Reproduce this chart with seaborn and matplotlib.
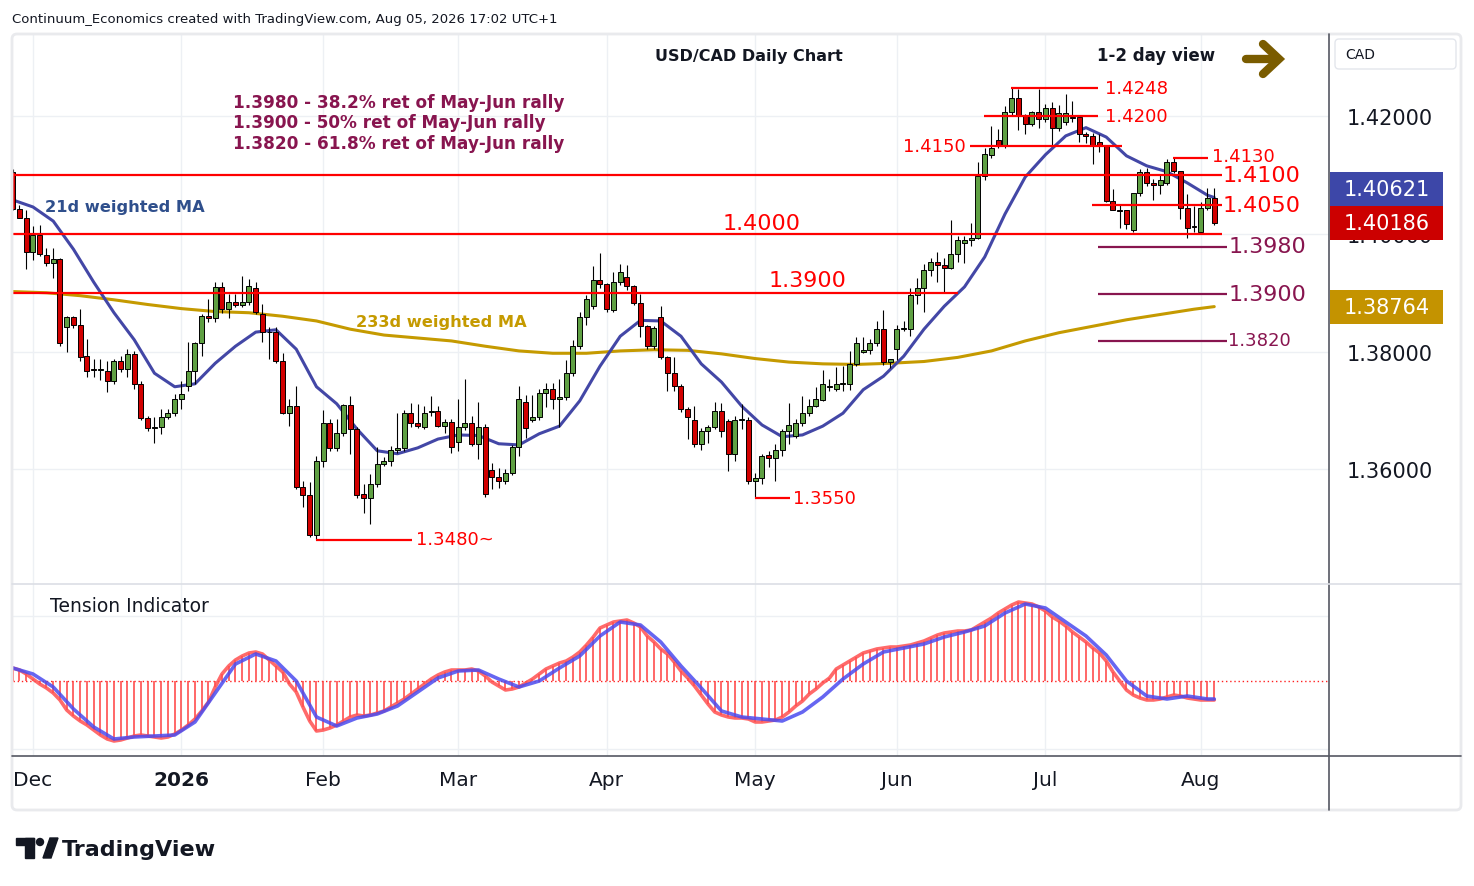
import matplotlib.pyplot as plt
import matplotlib.patches as mpatches
import matplotlib.transforms as mtransforms
import numpy as np
import pandas as pd
import seaborn as sns

sns.set_theme(style='white')
plt.rcParams['font.family'] = ['DejaVu Sans']

# Trading days shown (FX daily, Christmas and New Year closed)
dates = pd.bdate_range('2025-11-26', '2026-08-05')
dates = dates[~dates.isin(pd.to_datetime(['2025-12-25', '2026-01-01']))]

# USD/CAD daily OHLC
opens = [1.4105, 1.4043, 1.4028, 1.3970, 1.3998, 1.3965, 1.3950, 1.3957, 1.3841, 1.3858,
         1.3845, 1.3792, 1.3770, 1.3768, 1.3767, 1.3749, 1.3784, 1.3771, 1.3796, 1.3744,
         1.3686, 1.3669, 1.3671, 1.3688, 1.3695, 1.3720, 1.3742, 1.3766, 1.3815, 1.3861,
         1.3857, 1.3909, 1.3872, 1.3885, 1.3879, 1.3885, 1.3908, 1.3864, 1.3834, 1.3833,
         1.3784, 1.3695, 1.3708, 1.3569, 1.3556, 1.3487, 1.3614, 1.3679, 1.3635, 1.3661,
         1.3709, 1.3668, 1.3557, 1.3550, 1.3574, 1.3608, 1.3614, 1.3633, 1.3635, 1.3695,
         1.3678, 1.3671, 1.3697, 1.3698, 1.3674, 1.3680, 1.3646, 1.3672, 1.3678, 1.3643,
         1.3672, 1.3599, 1.3586, 1.3580, 1.3593, 1.3637, 1.3714, 1.3684, 1.3689, 1.3730,
         1.3737, 1.3719, 1.3723, 1.3763, 1.3809, 1.3858, 1.3877, 1.3921, 1.3915, 1.3871,
         1.3918, 1.3926, 1.3911, 1.3883, 1.3843, 1.3809, 1.3858, 1.3790, 1.3764, 1.3742,
         1.3703, 1.3683, 1.3643, 1.3664, 1.3671, 1.3699, 1.3681, 1.3626, 1.3684, 1.3684,
         1.3580, 1.3584, 1.3624, 1.3618, 1.3633, 1.3664, 1.3657, 1.3678, 1.3695, 1.3707,
         1.3718, 1.3740, 1.3737, 1.3745, 1.3745, 1.3779, 1.3799, 1.3802, 1.3814, 1.3839,
         1.3782, 1.3805, 1.3839, 1.3838, 1.3896, 1.3908, 1.3938, 1.3953, 1.3947, 1.3942,
         1.3966, 1.3985, 1.3989, 1.3994, 1.4099, 1.4134, 1.4160, 1.4151, 1.4208, 1.4231,
         1.4203, 1.4187, 1.4208, 1.4196, 1.4214, 1.4180, 1.4190, 1.4199, 1.4199, 1.4170,
         1.4166, 1.4156, 1.4151, 1.4057, 1.4040, 1.4040, 1.4007, 1.4070, 1.4106, 1.4087,
         1.4083, 1.4087, 1.4122, 1.4108, 1.4045, 1.4012, 1.4003, 1.4045, 1.4062]
highs = [1.4110, 1.4049, 1.4040, 1.4014, 1.4015, 1.3976, 1.3977, 1.3960, 1.3861, 1.3861,
         1.3872, 1.3822, 1.3787, 1.3787, 1.3783, 1.3787, 1.3793, 1.3804, 1.3801, 1.3750,
         1.3690, 1.3688, 1.3702, 1.3703, 1.3728, 1.3749, 1.3816, 1.3817, 1.3864, 1.3889,
         1.3919, 1.3919, 1.3898, 1.3898, 1.3928, 1.3923, 1.3918, 1.3881, 1.3842, 1.3841,
         1.3798, 1.3719, 1.3741, 1.3580, 1.3578, 1.3623, 1.3701, 1.3685, 1.3685, 1.3710,
         1.3725, 1.3671, 1.3574, 1.3591, 1.3637, 1.3620, 1.3640, 1.3695, 1.3701, 1.3713,
         1.3710, 1.3708, 1.3725, 1.3708, 1.3685, 1.3685, 1.3719, 1.3753, 1.3691, 1.3714,
         1.3676, 1.3611, 1.3601, 1.3600, 1.3641, 1.3742, 1.3726, 1.3726, 1.3736, 1.3747,
         1.3747, 1.3754, 1.3786, 1.3820, 1.3867, 1.3896, 1.3946, 1.3968, 1.3917, 1.3935,
         1.3949, 1.3947, 1.3913, 1.3898, 1.3845, 1.3843, 1.3878, 1.3792, 1.3790, 1.3744,
         1.3705, 1.3708, 1.3669, 1.3675, 1.3714, 1.3712, 1.3685, 1.3691, 1.3711, 1.3688,
         1.3593, 1.3626, 1.3631, 1.3643, 1.3668, 1.3712, 1.3685, 1.3725, 1.3719, 1.3739,
         1.3768, 1.3753, 1.3773, 1.3776, 1.3801, 1.3824, 1.3824, 1.3821, 1.3852, 1.3870,
         1.3788, 1.3845, 1.3852, 1.3908, 1.3925, 1.3949, 1.3960, 1.3970, 1.3959, 1.4024,
         1.3996, 1.3997, 1.4019, 1.4122, 1.4146, 1.4184, 1.4179, 1.4218, 1.4250, 1.4247,
         1.4205, 1.4210, 1.4246, 1.4221, 1.4225, 1.4220, 1.4238, 1.4227, 1.4200, 1.4173,
         1.4172, 1.4170, 1.4151, 1.4077, 1.4049, 1.4041, 1.4070, 1.4111, 1.4112, 1.4094,
         1.4102, 1.4128, 1.4130, 1.4108, 1.4068, 1.4048, 1.4054, 1.4079, 1.4079]
lows = [1.4040, 1.4027, 1.3940, 1.3955, 1.3963, 1.3945, 1.3925, 1.3810, 1.3800, 1.3840,
        1.3784, 1.3757, 1.3757, 1.3751, 1.3731, 1.3745, 1.3765, 1.3756, 1.3736, 1.3683,
        1.3665, 1.3644, 1.3660, 1.3685, 1.3690, 1.3702, 1.3732, 1.3745, 1.3792, 1.3851,
        1.3850, 1.3865, 1.3857, 1.3875, 1.3875, 1.3880, 1.3864, 1.3816, 1.3787, 1.3781,
        1.3694, 1.3674, 1.3566, 1.3536, 1.3484, 1.3480, 1.3604, 1.3630, 1.3630, 1.3656,
        1.3626, 1.3551, 1.3525, 1.3506, 1.3570, 1.3605, 1.3605, 1.3628, 1.3630, 1.3671,
        1.3670, 1.3668, 1.3691, 1.3672, 1.3661, 1.3628, 1.3631, 1.3667, 1.3640, 1.3617,
        1.3553, 1.3566, 1.3567, 1.3575, 1.3590, 1.3622, 1.3652, 1.3680, 1.3684, 1.3705,
        1.3702, 1.3671, 1.3718, 1.3758, 1.3804, 1.3845, 1.3872, 1.3908, 1.3868, 1.3868,
        1.3914, 1.3904, 1.3880, 1.3825, 1.3805, 1.3805, 1.3787, 1.3733, 1.3732, 1.3697,
        1.3651, 1.3637, 1.3633, 1.3645, 1.3668, 1.3655, 1.3597, 1.3614, 1.3668, 1.3575,
        1.3550, 1.3575, 1.3603, 1.3579, 1.3623, 1.3643, 1.3652, 1.3674, 1.3690, 1.3705,
        1.3715, 1.3733, 1.3732, 1.3732, 1.3735, 1.3775, 1.3797, 1.3796, 1.3810, 1.3777,
        1.3772, 1.3785, 1.3835, 1.3827, 1.3881, 1.3867, 1.3928, 1.3919, 1.3902, 1.3941,
        1.3953, 1.3951, 1.3980, 1.3992, 1.4092, 1.4130, 1.4146, 1.4146, 1.4200, 1.4177,
        1.4170, 1.4184, 1.4180, 1.4190, 1.4151, 1.4175, 1.4185, 1.4190, 1.4156, 1.4155,
        1.4119, 1.4140, 1.4054, 1.4040, 1.4011, 1.4008, 1.4004, 1.4065, 1.4081, 1.4058,
        1.4068, 1.4083, 1.4104, 1.4025, 1.3993, 1.4003, 1.4000, 1.4040, 1.4015]
closes = [1.4043, 1.4028, 1.3969, 1.3998, 1.3966, 1.3950, 1.3957, 1.3814, 1.3858, 1.3845,
          1.3791, 1.3767, 1.3768, 1.3770, 1.3749, 1.3784, 1.3771, 1.3796, 1.3744, 1.3686,
          1.3669, 1.3672, 1.3688, 1.3695, 1.3720, 1.3728, 1.3766, 1.3815, 1.3861, 1.3857,
          1.3909, 1.3872, 1.3885, 1.3879, 1.3885, 1.3912, 1.3868, 1.3833, 1.3833, 1.3784,
          1.3696, 1.3708, 1.3569, 1.3556, 1.3488, 1.3614, 1.3679, 1.3635, 1.3661, 1.3709,
          1.3668, 1.3556, 1.3550, 1.3574, 1.3608, 1.3614, 1.3633, 1.3635, 1.3695, 1.3678,
          1.3674, 1.3696, 1.3698, 1.3674, 1.3680, 1.3637, 1.3672, 1.3678, 1.3643, 1.3672,
          1.3557, 1.3586, 1.3580, 1.3593, 1.3637, 1.3720, 1.3669, 1.3689, 1.3730, 1.3737,
          1.3719, 1.3723, 1.3763, 1.3809, 1.3858, 1.3889, 1.3921, 1.3915, 1.3872, 1.3918,
          1.3935, 1.3911, 1.3883, 1.3843, 1.3809, 1.3840, 1.3790, 1.3764, 1.3742, 1.3703,
          1.3688, 1.3643, 1.3664, 1.3671, 1.3699, 1.3665, 1.3626, 1.3684, 1.3685, 1.3580,
          1.3584, 1.3623, 1.3618, 1.3633, 1.3664, 1.3675, 1.3678, 1.3695, 1.3708, 1.3719,
          1.3745, 1.3741, 1.3745, 1.3746, 1.3779, 1.3815, 1.3803, 1.3814, 1.3839, 1.3782,
          1.3787, 1.3839, 1.3840, 1.3896, 1.3908, 1.3938, 1.3953, 1.3947, 1.3942, 1.3966,
          1.3989, 1.3990, 1.3994, 1.4099, 1.4136, 1.4147, 1.4151, 1.4208, 1.4231, 1.4203,
          1.4187, 1.4208, 1.4196, 1.4214, 1.4180, 1.4206, 1.4206, 1.4198, 1.4170, 1.4166,
          1.4151, 1.4151, 1.4057, 1.4041, 1.4039, 1.4017, 1.4070, 1.4106, 1.4087, 1.4083,
          1.4092, 1.4122, 1.4108, 1.4045, 1.4011, 1.4013, 1.4045, 1.4062, 1.40186]

# 21d weighted MA, sampled every 3rd bar (plus last bar)
ma21 = [1.4058, 1.4046, 1.4022, 1.3974, 1.3918, 1.3866, 1.3820, 1.3763, 1.3740, 1.3745,
        1.3780, 1.3809, 1.3833, 1.3837, 1.3804, 1.3740, 1.3711, 1.3668, 1.3631, 1.3626,
        1.3636, 1.3651, 1.3658, 1.3657, 1.3643, 1.3641, 1.3660, 1.3673, 1.3716, 1.3775,
        1.3826, 1.3853, 1.3852, 1.3826, 1.3779, 1.3748, 1.3707, 1.3675, 1.3655, 1.3658,
        1.3673, 1.3695, 1.3735, 1.3758, 1.3792, 1.3838, 1.3877, 1.3910, 1.3961, 1.4034,
        1.4097, 1.4135, 1.4167, 1.4181, 1.4165, 1.4133, 1.4116, 1.4106, 1.4087, 1.4066,
        1.40621]
# 233d weighted MA, sampled every 5th bar (plus last bar)
ma233 = [1.3902, 1.3900, 1.3895, 1.3888, 1.3880, 1.3873, 1.3868, 1.3866, 1.3860, 1.3852,
         1.3838, 1.3828, 1.3823, 1.3818, 1.3809, 1.3801, 1.3797, 1.3797, 1.3801, 1.3803,
         1.3802, 1.3796, 1.3788, 1.3782, 1.3779, 1.3778, 1.3780, 1.3783, 1.3790, 1.3801,
         1.3818, 1.3832, 1.3843, 1.3854, 1.3863, 1.3872, 1.38764]

# Tension indicator: main line (every bar) and signal line (every 3rd bar)
tension = [0.13, 0.11, 0.07, 0.02, -0.03, -0.07, -0.12, -0.19, -0.29, -0.35,
           -0.40, -0.44, -0.49, -0.54, -0.58, -0.60, -0.59, -0.57, -0.55, -0.54,
           -0.55, -0.56, -0.57, -0.56, -0.53, -0.49, -0.44, -0.38, -0.30, -0.21,
           -0.06, 0.07, 0.15, 0.21, 0.25, 0.28, 0.29, 0.27, 0.21, 0.15,
           0.09, -0.03, -0.11, -0.26, -0.40, -0.50, -0.49, -0.47, -0.44, -0.40,
           -0.36, -0.34, -0.35, -0.34, -0.32, -0.30, -0.26, -0.22, -0.18, -0.13,
           -0.08, -0.03, 0.02, 0.06, 0.09, 0.11, 0.11, 0.11, 0.12, 0.10,
           0.05, -0.01, -0.05, -0.09, -0.08, -0.06, -0.02, 0.02, 0.07, 0.12,
           0.15, 0.18, 0.20, 0.24, 0.29, 0.36, 0.44, 0.53, 0.56, 0.59,
           0.60, 0.61, 0.58, 0.54, 0.45, 0.39, 0.32, 0.27, 0.19, 0.10,
           0.03, -0.05, -0.14, -0.23, -0.31, -0.34, -0.36, -0.37, -0.37, -0.38,
           -0.41, -0.41, -0.40, -0.39, -0.36, -0.31, -0.25, -0.20, -0.13, -0.08,
           -0.02, 0.03, 0.12, 0.16, 0.20, 0.24, 0.28, 0.30, 0.32, 0.33,
           0.34, 0.34, 0.35, 0.36, 0.38, 0.40, 0.43, 0.46, 0.48, 0.49,
           0.50, 0.50, 0.51, 0.55, 0.59, 0.63, 0.68, 0.72, 0.76, 0.79,
           0.78, 0.77, 0.74, 0.70, 0.64, 0.60, 0.55, 0.49, 0.44, 0.39,
           0.33, 0.28, 0.20, 0.09, 0.00, -0.09, -0.14, -0.17, -0.19, -0.19,
           -0.18, -0.16, -0.14, -0.15, -0.17, -0.18, -0.19, -0.19, -0.19]
tension_signal = [0.13, 0.07, -0.06, -0.28, -0.46, -0.58, -0.56, -0.55, -0.54, -0.41,
                  -0.12, 0.17, 0.27, 0.20, 0.00, -0.36, -0.45, -0.37, -0.33, -0.25,
                  -0.11, 0.03, 0.10, 0.11, 0.02, -0.06, 0.00, 0.13, 0.25, 0.45,
                  0.59, 0.56, 0.39, 0.15, -0.07, -0.30, -0.36, -0.38, -0.40, -0.31,
                  -0.16, 0.02, 0.17, 0.29, 0.33, 0.37, 0.44, 0.49, 0.55, 0.68,
                  0.77, 0.73, 0.59, 0.45, 0.26, 0.00, -0.15, -0.18, -0.15, -0.18,
                  -0.18]

levels_red = [1.4248, 1.4200, 1.4150, 1.4130, 1.4100, 1.4050, 1.4000, 1.3900, 1.3550, 1.3480]
levels_fib = [1.3980, 1.3900, 1.3820]
fib_notes = ['1.3980 - 38.2% ret of May-Jun rally',
             '1.3900 - 50% ret of May-Jun rally',
             '1.3820 - 61.8% ret of May-Jun rally']
price_ticks = [1.36, 1.38, 1.40, 1.42]

GREEN = '#5fa043'
RED = '#d20000'
LEVEL = '#ff0000'
FIB = '#88154f'
MA21_C = '#4347a6'
MA233_C = '#c59a00'
GRID = '#edf0f4'
W, H = 1474, 887


def frac(x0, y0, x1, y1):
    return [x0 / W, 1 - y1 / H, (x1 - x0) / W, (y1 - y0) / H]


df = pd.DataFrame({'open': opens, 'high': highs, 'low': lows, 'close': closes}, index=dates)
pos = np.arange(len(df))
n = len(df)
sig_pos = list(range(0, n, 3)) + [n - 1]
ma233_pos = list(range(0, n, 5)) + [n - 1]

fig = plt.figure(figsize=(14.74, 8.87), dpi=100)
fig.patch.set_facecolor('white')
ax = fig.add_axes(frac(13, 35, 1329, 585))
axi = fig.add_axes(frac(13, 585, 1329, 757), sharex=ax)

# month ticks at the first bar of each month
month_key = dates.to_period('M')
mt = [i for i in range(1, n) if month_key[i] != month_key[i - 1]]
mlab = [str(dates[i].year) if dates[i].month == 1 else dates[i].strftime('%b') for i in mt]

# ---- price pane
ax.set_xlim(0.04, 195.0)
ax.set_ylim(1.34043, 1.43404)
ax.set_xticks(mt)
ax.grid(True, color=GRID, linewidth=1)
ax.set_yticks(price_ticks)
ax.set_yticklabels([f'{v:.5f}' for v in price_ticks])
ax.yaxis.tick_right()
ax.tick_params(axis='y', length=0, pad=13, labelsize=15, labelcolor='#131722')
ax.tick_params(axis='x', length=0, labelbottom=False)
for s in ax.spines.values():
    s.set_visible(False)

sns.lineplot(x=ma233_pos, y=ma233, ax=ax, color=MA233_C, linewidth=2.2, sort=False, legend=False, zorder=2)
sns.lineplot(x=sig_pos, y=ma21, ax=ax, color=MA21_C, linewidth=2.2, sort=False, legend=False, zorder=2)

up = df['close'].values >= df['open'].values
body = np.clip(np.abs(df['close'].values - df['open'].values), 0.00004, None)
bottom = np.minimum(df['open'].values, df['close'].values)
ax.vlines(pos, df['low'], df['high'], color='black', linewidth=0.8, zorder=3)
ax.bar(pos, body, bottom=bottom, width=0.74, color=np.where(up, GREEN, RED),
       edgecolor='black', linewidth=0.7, zorder=4)

# support / resistance levels (bar spans)
red_spans = {1.4248: (147.9, 160.8), 1.4200: (143.9, 160.8), 1.4150: (141.8, 164.3),
             1.4130: (171.9, 177.1), 1.4100: (0, 179.1), 1.4050: (159.9, 179.1),
             1.4000: (0, 179.1), 1.3900: (0, 140.0), 1.3550: (110.0, 115.2),
             1.3480: (44.9, 59.1)}
for lv in levels_red:
    a, b = red_spans[lv]
    ax.hlines(lv, a, b, color=LEVEL, linewidth=1.6, zorder=5)
for lv in levels_fib:
    ax.hlines(lv - 0.00015, 160.8, 179.9, color=FIB, linewidth=1.6, zorder=5)

big = dict(color=LEVEL, fontsize=16, va='center', zorder=6)
small = dict(color=LEVEL, fontsize=13, va='center', zorder=6)
ax.text(179.3, 1.4100, '1.4100', **big)
ax.text(179.3, 1.4050, '1.4050', **big)
ax.text(105.1, 1.40187, '1.4000', **big)
ax.text(111.9, 1.39217, '1.3900', **big)
ax.text(141.2, 1.4150, '1.4150', ha='right', **small)
ax.text(161.8, 1.4200, '1.4200', **small)
ax.text(161.8, 1.4248, '1.4248', **small)
ax.text(177.7, 1.4133, '1.4130', **small)
ax.text(115.6, 1.35506, '1.3550', **small)
ax.text(59.7, 1.3481, '1.3480~', **small)
ax.text(180.1, 1.3979, '1.3980', color=FIB, fontsize=16, va='center', zorder=6)
ax.text(180.1, 1.3898, '1.3900', color=FIB, fontsize=16, va='center', zorder=6)
ax.text(180.1, 1.3819, '1.3820', color=FIB, fontsize=13, va='center', zorder=6)
ax.text(4.8, 1.4046, '21d weighted MA', color='#2f4f8c', fontsize=11.7,
        fontweight='bold', va='center', zorder=6)
ax.text(50.9, 1.38519, '233d weighted MA', color=MA233_C, fontsize=11.7,
        fontweight='bold', va='center', zorder=6)

# price-scale boxes
trans = mtransforms.blended_transform_factory(ax.transAxes, ax.transData)
boxes = [(ma21[-1], 1.40774, '#3d47a8'), (closes[-1], closes[-1], '#cc0000'),
         (ma233[-1], 1.38757, '#c49300')]
bh = 34 / 5875
for val, yc, col in boxes:
    ax.add_patch(mpatches.Rectangle((1.0008, yc - bh / 2), 0.0859, bh, transform=trans,
                                    facecolor=col, edgecolor='none', clip_on=False, zorder=7))
    ax.text(1.0437, yc, f'{val:.5f}', transform=trans, color='white', fontsize=15,
            ha='center', va='center', clip_on=False, zorder=8)

# ---- tension indicator pane
axi.set_ylim(-0.75, 0.97)
axi.set_yticks([-0.68, 0.65])
axi.grid(True, color=GRID, linewidth=1)
axi.tick_params(axis='y', length=0, labelleft=False, labelright=False)
axi.set_xticks(mt)
axi.set_xticklabels(mlab)
axi.tick_params(axis='x', length=0, pad=10, labelsize=14.5, labelcolor='#131722')
for lab in axi.get_xticklabels():
    if lab.get_text().isdigit():
        lab.set_fontweight('bold')
for s in axi.spines.values():
    s.set_visible(False)
axi.axhline(0, color='#ff2020', linestyle=(0, (1, 2)), linewidth=1)
axi.vlines(pos, 0, tension, color='#ff4040', linewidth=1.3, alpha=0.85)
sns.lineplot(x=pos, y=tension, ax=axi, color='#ff5050', linewidth=2.6, alpha=0.85,
             sort=False, legend=False)
sns.lineplot(x=sig_pos, y=tension_signal, ax=axi, color='#4b4bef', linewidth=2.6,
             alpha=0.85, sort=False, legend=False)

# ---- frame, titles and logo (pixel overlay)
ov = fig.add_axes([0, 0, 1, 1], facecolor='none')
ov.set_xlim(0, W)
ov.set_ylim(H, 0)
ov.axis('off')
ov.add_patch(mpatches.FancyBboxPatch((12, 35), 1449, 776, boxstyle='round,pad=0,rounding_size=5',
                                     facecolor='none', edgecolor='#e9eaed', linewidth=2))
ov.plot([1329, 1329], [35, 811], color='#555862', linewidth=1.2)
ov.plot([12, 1461], [585, 585], color='#dcdee5', linewidth=1.2)
ov.plot([12, 1461], [757, 757], color='#555862', linewidth=1.2)
ov.add_patch(mpatches.FancyBboxPatch((1335, 40), 121, 30, boxstyle='round,pad=0,rounding_size=4',
                                     facecolor='white', edgecolor='#e3e6ec', linewidth=1))
ov.text(1345, 55, 'CAD', fontsize=10, va='center', color='#131722')

ov.text(12, 19, 'Continuum_Economics created with TradingView.com, Aug 05, 2026 17:02 UTC+1',
        fontsize=9.5, va='center', color='#131722')
ov.text(749, 57, 'USD/CAD Daily Chart', fontsize=11.5, fontweight='bold', ha='center',
        va='center', color='#131722')
ov.text(1097, 56, '1-2 day view', fontsize=12, fontweight='bold', va='center', color='#131722')
ov.plot([1246, 1276], [60, 60], color='#7a5c00', linewidth=6, solid_capstyle='round')
ov.plot([1263, 1279, 1263], [45, 60, 75], color='#7a5c00', linewidth=6,
        solid_capstyle='round', solid_joinstyle='miter')
for i, note in enumerate(fib_notes):
    ov.text(233, 103 + i * 20.5, note, fontsize=12.2, fontweight='bold', va='center', color=FIB)
ov.text(50, 607, 'Tension Indicator', fontsize=13.5, va='center', color='#131722')

# TradingView logo
ov.add_patch(mpatches.Rectangle((16, 839), 18, 7, color='#131722'))
ov.add_patch(mpatches.Rectangle((25, 839), 9, 20, color='#131722'))
ov.add_patch(mpatches.Circle((40, 843), 3.5, color='#131722'))
ov.add_patch(mpatches.Polygon([(43, 859), (50, 839), (58, 839), (51, 859)], color='#131722'))
ov.text(62, 850, 'TradingView', fontsize=16, fontweight='bold', va='center', color='#131722')

fig.savefig('out.png', dpi=100, facecolor='white')
